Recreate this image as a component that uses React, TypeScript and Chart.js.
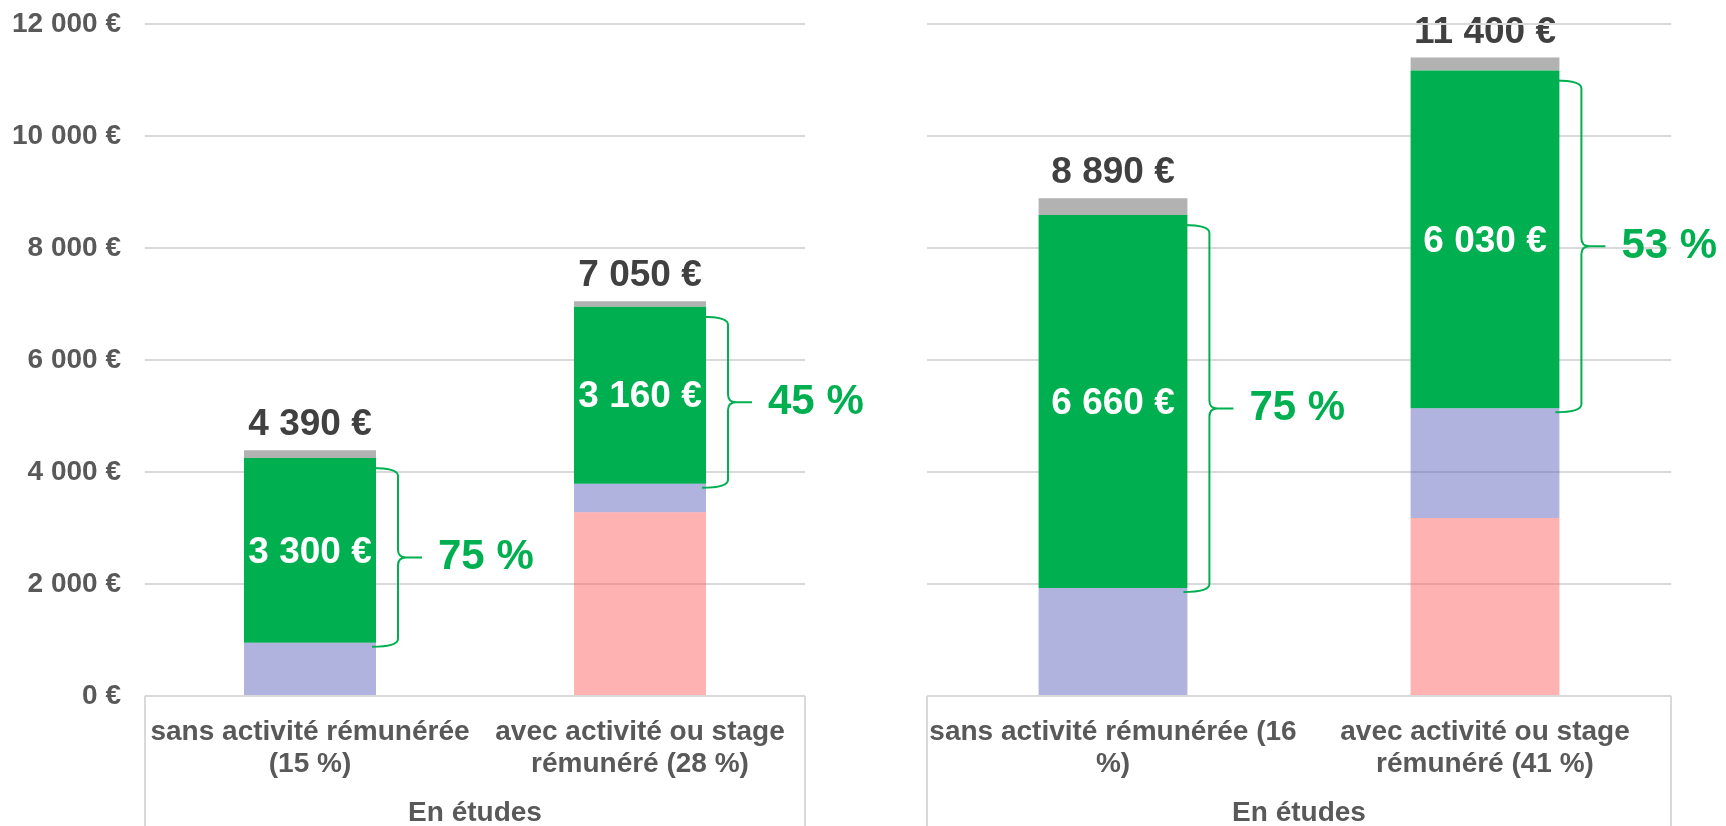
import React, { useEffect, useRef } from 'react';
import { Chart, registerables } from 'chart.js';

Chart.register(...registerables);

const FAMILY = '"Liberation Sans", Arial, Helvetica, sans-serif';

// ---- data ----
const leftCategories = [
  ['sans activité rémunérée', '(15 %)'],
  ['avec activité ou stage', 'rémunéré (28 %)'],
];
const rightCategories = [
  ['sans activité rémunérée (16', '%)'],
  ['avec activité ou stage', 'rémunéré (41 %)'],
];
const groupLabel = 'En études';

const leftPink = [0, 3280];
const leftPurple = [950, 510];
const leftGreen = [3300, 3160];
const leftGray = [140, 100];

const rightPink = [0, 3180];
const rightPurple = [1930, 1960];
const rightGreen = [6660, 6030];
const rightGray = [300, 230];

const yMin = 0;
const yMax = 12000;
const yStep = 2000;

const fmt = (v: number) =>
  Math.round(v).toString().replace(/\B(?=(\d{3})+(?!\d))/g, ' ') + ' €';

const GREEN = '#00B050';

const annotate = {
  id: 'annotate',
  beforeDraw(chart: any) {
    const { ctx } = chart;
    const n = chart.data.labels.length;
    const topMeta = chart.getDatasetMeta(chart.data.datasets.length - 1);
    ctx.save();
    ctx.font = `bold 37px ${FAMILY}`;
    ctx.fillStyle = '#404040';
    ctx.textAlign = 'center';
    ctx.textBaseline = 'alphabetic';
    for (let i = 0; i < n; i++) {
      const total = chart.data.datasets.reduce((s: number, d: any) => s + d.data[i], 0);
      const el = topMeta.data[i];
      ctx.fillText(fmt(total), el.x, el.y - 15);
    }
    ctx.restore();
  },
  afterDatasetsDraw(chart: any) {
    const { ctx, chartArea } = chart;
    const n = chart.data.labels.length;
    const greenMeta = chart.getDatasetMeta(2);
    ctx.save();
    for (let i = 0; i < n; i++) {
      const el = greenMeta.data[i];
      const g = chart.data.datasets[2].data[i];
      const total = chart.data.datasets.reduce((s: number, d: any) => s + d.data[i], 0);
      // inside label
      ctx.font = `bold 37px ${FAMILY}`;
      ctx.fillStyle = '#FFFFFF';
      ctx.textAlign = 'center';
      ctx.textBaseline = 'middle';
      ctx.fillText(fmt(g), el.x, (el.y + el.base) / 2 + 2);
      // brace
      const x0 = el.x + el.width / 2 - 4;
      const x1 = el.x + el.width / 2 + 22;
      const top = el.y + 10;
      const bottom = el.base + 4;
      const mid = (top + bottom) / 2;
      const r = 8;
      const tipEnd = x1 + 24;
      ctx.strokeStyle = GREEN;
      ctx.lineWidth = 2;
      ctx.beginPath();
      ctx.moveTo(x0, top);
      ctx.quadraticCurveTo(x1, top, x1, top + r);
      ctx.lineTo(x1, mid - r);
      ctx.quadraticCurveTo(x1, mid, x1 + r, mid);
      ctx.lineTo(tipEnd, mid);
      ctx.moveTo(x1 + r, mid);
      ctx.quadraticCurveTo(x1, mid, x1, mid + r);
      ctx.lineTo(x1, bottom - r);
      ctx.quadraticCurveTo(x1, bottom, x0, bottom);
      ctx.stroke();
      // percentage
      ctx.font = `bold 42px ${FAMILY}`;
      ctx.fillStyle = GREEN;
      ctx.textAlign = 'left';
      ctx.textBaseline = 'middle';
      ctx.fillText(Math.round((g / total) * 100) + ' %', tipEnd + 16, mid);
    }
    // category box lines
    ctx.strokeStyle = '#D9D9D9';
    ctx.lineWidth = 2;
    ctx.beginPath();
    ctx.moveTo(chartArea.left, chartArea.bottom);
    ctx.lineTo(chartArea.left, chart.height);
    ctx.moveTo(chartArea.right, chartArea.bottom);
    ctx.lineTo(chartArea.right, chart.height);
    ctx.stroke();
    // group label
    ctx.font = `bold 28px ${FAMILY}`;
    ctx.fillStyle = '#595959';
    ctx.textAlign = 'center';
    ctx.textBaseline = 'alphabetic';
    ctx.fillText(groupLabel, (chartArea.left + chartArea.right) / 2, chartArea.bottom + 125);
    ctx.restore();
  },
};

function buildConfig(
  cats: string[][],
  pink: number[],
  purple: number[],
  green: number[],
  gray: number[],
  showY: boolean,
  yWidth: number,
  padRight: number
): any {
  return {
    type: 'bar',
    data: {
      labels: cats,
      datasets: [
        { label: 'a', data: pink, backgroundColor: 'rgba(255,102,102,0.5)' },
        { label: 'b', data: purple, backgroundColor: 'rgba(99,103,191,0.5)' },
        { label: 'c', data: green, backgroundColor: GREEN },
        { label: 'd', data: gray, backgroundColor: '#B2B2B2' },
      ],
    },
    options: {
      animation: false,
      responsive: true,
      maintainAspectRatio: false,
      layout: { padding: { top: 24, right: padRight, bottom: 0, left: 0 } },
      datasets: { bar: { categoryPercentage: 1, barPercentage: 0.4, borderWidth: 0 } },
      plugins: { legend: { display: false }, tooltip: { enabled: false } },
      scales: {
        x: {
          stacked: true,
          grid: { display: false },
          border: { display: false },
          ticks: {
            color: '#595959',
            font: { family: FAMILY, size: 28, weight: 'bold', lineHeight: 1.15 },
            padding: 12,
            maxRotation: 0,
            autoSkip: false,
          },
          afterFit: (s: any) => {
            s.height = 130;
            s.paddingLeft = 0;
            s.paddingRight = 0;
          },
        },
        y: {
          stacked: true,
          min: yMin,
          max: yMax,
          ticks: {
            stepSize: yStep,
            display: showY,
            callback: (v: any) => fmt(Number(v)),
            color: '#595959',
            font: { family: FAMILY, size: 28, weight: 'bold' },
            padding: 24,
          },
          grid: { color: '#D9D9D9', lineWidth: 2, drawTicks: false },
          border: { display: false },
          afterFit: (s: any) => {
            s.width = yWidth;
            s.paddingTop = 0;
            s.paddingBottom = 0;
          },
        },
      },
    },
    plugins: [annotate],
  };
}

function Panel(props: {
  left: number;
  width: number;
  cats: string[][];
  pink: number[];
  purple: number[];
  green: number[];
  gray: number[];
  showY: boolean;
  yWidth: number;
  padRight: number;
}) {
  const ref = useRef<HTMLCanvasElement | null>(null);
  useEffect(() => {
    if (!ref.current) return;
    const chart = new Chart(
      ref.current,
      buildConfig(props.cats, props.pink, props.purple, props.green, props.gray, props.showY, props.yWidth, props.padRight)
    );
    return () => chart.destroy();
  }, []);
  return (
    <div style={{ position: 'absolute', left: props.left, top: 0, width: props.width, height: 826 }}>
      <canvas ref={ref} />
    </div>
  );
}

export default function App() {
  return (
    <div style={{ position: 'fixed', left: 0, top: 0, width: 1726, height: 826, background: '#FFFFFF', overflow: 'hidden' }}>
      <Panel
        left={0}
        width={880}
        cats={leftCategories}
        pink={leftPink}
        purple={leftPurple}
        green={leftGreen}
        gray={leftGray}
        showY={true}
        yWidth={145}
        padRight={75}
      />
      <Panel
        left={880}
        width={846}
        cats={rightCategories}
        pink={rightPink}
        purple={rightPurple}
        green={rightGreen}
        gray={rightGray}
        showY={false}
        yWidth={47}
        padRight={55}
      />
    </div>
  );
}
